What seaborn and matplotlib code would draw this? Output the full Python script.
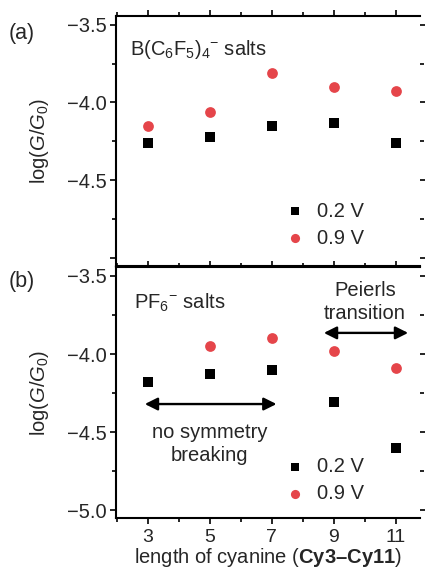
import matplotlib
matplotlib.use("Agg")
import matplotlib.pyplot as plt
import seaborn as sns
import pandas as pd
from matplotlib.ticker import MultipleLocator, FuncFormatter

# cyanine chain length (Cy3 ... Cy11)
length = [3, 5, 7, 9, 11]

# (a) B(C6F5)4- salts, log(G/G0)
bf_02 = [-4.26, -4.22, -4.15, -4.13, -4.26]
bf_09 = [-4.15, -4.06, -3.81, -3.90, -3.925]

# (b) PF6- salts, log(G/G0)  (no 0.9 V point for Cy3)
pf_02 = [-4.18, -4.13, -4.10, -4.31, -4.60]
pf_09_length = [5, 7, 9, 11]
pf_09 = [-3.95, -3.90, -3.98, -4.09]

# arrow ranges in panel (b): (x start, x end, y)
sym_arrow = (2.9, 7.15, -4.32)
peierls_arrow = (8.68, 11.4, -3.865)

RED = "#e5454a"
FS = 14.5

sns.set_style("ticks")
plt.rcParams["font.family"] = ["Liberation Sans", "DejaVu Sans"]
plt.rcParams["mathtext.fontset"] = "custom"
plt.rcParams["mathtext.rm"] = "Liberation Sans"
plt.rcParams["mathtext.it"] = "Liberation Sans:italic"
plt.rcParams["mathtext.bf"] = "Liberation Sans:bold"
plt.rcParams["font.size"] = FS


def minus_fmt(v, pos):
    return f"{v:.1f}".replace("-", "\u2212")


def style_axis(ax, show_xlabels):
    ax.set_xlim(1.97, 11.78)
    ax.set_ylim(-5.05, -3.445)
    ax.xaxis.set_minor_locator(MultipleLocator(1))
    ax.set_xticks(length)
    ax.yaxis.set_major_locator(MultipleLocator(0.5))
    ax.yaxis.set_minor_locator(MultipleLocator(0.25))
    ax.yaxis.set_major_formatter(FuncFormatter(minus_fmt))
    ax.tick_params(which="both", direction="out", top=True, right=True,
                   width=1.2, labelsize=14.5, color="black")
    ax.tick_params(which="major", length=4)
    ax.tick_params(which="minor", length=3)
    ax.tick_params(axis="x", labelbottom=show_xlabels, pad=4, labelsize=14)
    ax.tick_params(axis="y", pad=3)
    for side in ["left", "top", "bottom"]:
        ax.spines[side].set_linewidth(1.5)
        ax.spines[side].set_color("black")
    ax.spines["right"].set_visible(False)
    ax.set_ylabel(r"log($G$/$G_0$)", fontsize=FS)
    ax.yaxis.set_label_coords(-0.215, 0.5)
    ax.set_xlabel("")


fig = plt.figure(figsize=(4.25, 5.71), dpi=100)
ax_a = fig.add_axes([0.273, 0.534, 0.715, 0.438])
ax_b = fig.add_axes([0.273, 0.0925, 0.715, 0.4395])

legend_kw = dict(loc="upper left", borderaxespad=0, frameon=False,
                 handlelength=1.0, handletextpad=0.62, markerscale=0.85,
                 fontsize=FS, labelspacing=0.4)

# panel (a)
sns.scatterplot(x=length, y=bf_02, marker="s", color="black", s=48,
                linewidth=0, label="0.2 V", ax=ax_a)
sns.scatterplot(x=length, y=bf_09, marker="o", color=RED, s=60,
                linewidth=0, label="0.9 V", ax=ax_a)
style_axis(ax_a, False)
ax_a.set_yticks([-3.5, -4.0, -4.5, -5.0], ["\u22123.5", "\u22124.0", "\u22124.5", ""])
ax_a.text(0.046, 0.865, r"B(C$_6$F$_5$)$_4$$^{−}$ salts", transform=ax_a.transAxes,
          ha="left", va="center", fontsize=FS)
ax_a.legend(bbox_to_anchor=(0.528, 0.29), **legend_kw)

# panel (b)
sns.scatterplot(x=length, y=pf_02, marker="s", color="black", s=48,
                linewidth=0, label="0.2 V", ax=ax_b)
sns.scatterplot(x=pf_09_length, y=pf_09, marker="o", color=RED, s=60,
                linewidth=0, label="0.9 V", ax=ax_b)
style_axis(ax_b, True)
ax_b.set_xlabel(r"length of cyanine ($\mathbf{Cy3–Cy11}$)", fontsize=FS, labelpad=0)
ax_b.text(0.06, 0.86, r"PF$_6$$^{−}$ salts", transform=ax_b.transAxes,
          ha="left", va="center", fontsize=FS)
ax_b.legend(bbox_to_anchor=(0.528, 0.275), **legend_kw)

arrow_kw = dict(arrowstyle="<|-|>", color="black", lw=1.7, mutation_scale=19,
                shrinkA=0, shrinkB=0)
ax_b.annotate("", xy=(sym_arrow[1], sym_arrow[2]), xytext=(sym_arrow[0], sym_arrow[2]),
              arrowprops=arrow_kw)
ax_b.annotate("", xy=(peierls_arrow[1], peierls_arrow[2]),
              xytext=(peierls_arrow[0], peierls_arrow[2]), arrowprops=arrow_kw)
ax_b.text(5, -4.575, "no symmetry\nbreaking", ha="center", va="center", fontsize=FS,
          linespacing=1.25)
ax_b.text(10, -3.665, "Peierls\ntransition", ha="center", va="center", fontsize=FS,
          linespacing=1.25)

fig.text(0.05, 1 - 33 / 571, "(a)", ha="center", va="center", fontsize=15.5)
fig.text(0.05, 1 - 281 / 571, "(b)", ha="center", va="center", fontsize=15.5)

fig.savefig("out.png", dpi=100)
